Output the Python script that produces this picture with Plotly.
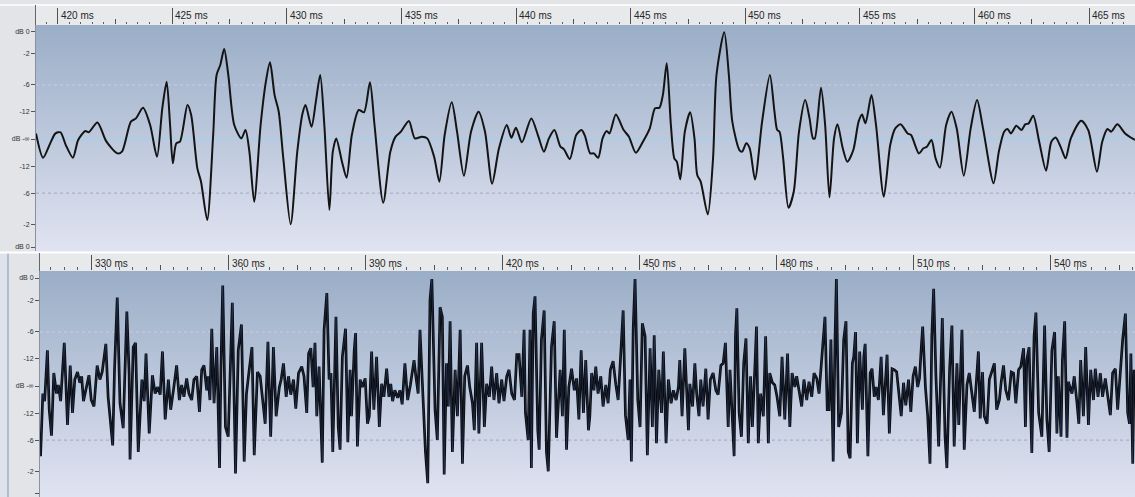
import plotly.graph_objects as go

# ---------------------------------------------------------------- data
# Close-up view, 419-467 ms: (time in ms, level in % of full scale)
top_first = [
    (419.05, 5.2), (419.36, -17.3), (419.67, -4.0), (419.90, 5.2), (420.12, 6.2),
    (420.35, -5.6), (420.66, -17.3), (420.89, -0.9), (421.20, 7.4), (421.35, 6.2),
    (421.73, 15.4), (422.11, -1.9), (422.60, -13.3), (422.80, -11.7), (423.19, 16.1),
    (423.41, 19.1), (423.72, 29.0), (424.03, 13.0), (424.33, -16.4), (424.56, 28.4),
    (424.75, 53.1), (424.90, 13.0), (425.02, -22.5), (425.17, -4.0), (425.33, -2.5),
    (425.66, 31.5), (425.82, 22.2), (426.09, -27.2), (426.25, -39.5), (426.52, -75.0),
    (426.78, 3.7), (426.93, 59.3), (427.09, 68.5), (427.26, 83.3), (427.44, 59.3),
    (427.70, 13.0), (428.01, 0.6), (428.19, 8.3), (428.36, -11.7), (428.57, -58.0),
    (428.85, 13.0), (429.08, 53.1), (429.26, 71.0), (429.46, 40.7), (429.64, 25.3),
    (429.84, -17.9), (430.16, -79.0), (430.45, -11.7), (430.68, 23.8), (430.81, 31.5),
    (431.07, 11.4), (431.26, 34.6), (431.45, 59.3), (431.63, 13.0), (431.85, -65.7),
    (432.00, -11.7), (432.15, 0.6), (432.40, -21.0), (432.60, -35.8), (432.83, 3.7),
    (433.13, 26.9), (433.36, 24.7), (433.62, 52.5), (433.82, 13.0), (434.20, -59.0),
    (434.51, -11.7), (434.74, 2.2), (434.97, 6.8), (435.32, 16.7), (435.58, 0.6),
    (435.89, 2.2), (436.12, 0.6), (436.42, -16.4), (436.65, -39.5), (436.88, 3.7),
    (437.19, 34.0), (437.42, 6.8), (437.72, -34.0), (438.03, 6.8), (438.36, 25.3),
    (438.64, 6.8), (438.95, -41.4), (439.25, -8.6), (439.59, 13.0), (439.79, 1.2),
    (439.99, 10.5), (440.25, -3.1), (440.66, 19.1), (440.97, 2.2), (441.21, -11.7),
    (441.43, 0.6), (441.67, 8.3), (441.93, -7.1), (442.08, -9.3), (442.34, -18.5),
    (442.62, 3.7), (442.85, 8.3),
]
top_second = [
    (443.00, 3.0), (443.23, -13.3), (443.39, -13.3), (443.58, -17.3), (443.77, 0.6),
    (443.95, 7.4), (444.07, 5.2), (444.35, 22.8), (444.69, 8.3), (444.92, 2.2),
    (445.22, -12.7), (445.53, -2.5), (445.83, 9.9), (446.06, 28.4), (446.25, 29.0),
    (446.40, 40.7), (446.57, 70.1), (446.75, 13.0), (446.90, -17.9), (447.01, -21.0),
    (447.16, -37.4), (447.36, 6.8), (447.59, 24.7), (447.78, 0.6), (447.90, -33.3),
    (448.05, -39.5), (448.36, -69.8), (448.59, -17.9), (448.74, 59.3), (449.08, 99.0),
    (449.28, 59.3), (449.43, 16.1), (449.74, -10.2), (449.86, -11.7), (450.04, -4.0),
    (450.19, -8.6), (450.42, -37.4), (450.73, 16.1), (451.07, 59.3), (451.27, 25.3),
    (451.39, 8.3), (451.49, 6.8), (451.65, -17.9), (451.88, -63.6), (452.11, -48.8),
    (452.34, 6.8), (452.61, 36.1), (452.80, 19.1), (452.95, 0.6), (453.03, 0.6),
    (453.30, 47.5), (453.48, 13.0), (453.67, -54.0), (453.87, 0.6), (454.02, 13.6),
    (454.25, -8.6), (454.45, -21.0), (454.71, -10.2), (454.94, 16.1), (455.09, 22.8),
    (455.24, 14.5), (455.50, 40.7), (455.70, 13.0), (456.04, -53.4), (456.32, -5.6),
    (456.54, 9.9), (456.77, 13.6), (457.08, 5.2), (457.23, 3.7), (457.57, -13.3),
    (457.77, -8.6), (457.92, -7.1), (458.12, -0.9), (458.30, -17.9), (458.49, -26.5),
    (458.76, 13.0), (458.99, 25.3), (459.22, 9.9), (459.53, -34.0), (459.83, 9.9),
    (460.11, 36.1), (460.37, 9.9), (460.83, -41.0), (461.06, -11.7), (461.29, 6.8),
    (461.44, 9.3), (461.59, 5.2), (461.82, 12.3), (462.05, 8.3), (462.21, 13.6),
    (462.36, 14.5), (462.56, 21.6), (462.82, -2.5), (463.12, -29.3), (463.35, -2.5),
    (463.54, 1.5), (463.78, -8.6), (463.97, -17.9), (464.20, 0.6), (464.65, 17.0),
    (464.96, 8.3), (465.34, -30.2), (465.57, -2.5), (465.80, 9.3), (465.96, 6.8),
    (466.23, 13.6), (466.57, 5.2), (467.00, -0.9),
]

# Overview, 318.7-558.5 ms: (time in ms, level in % of full scale)
wave_a = [
    (318.8, -65), (319.3, -7), (319.7, -14), (320.3, 33), (320.7, -22), (321.2, -46),
    (321.7, 12), (322.3, -7), (322.7, 1), (323.2, -14), (324.0, 40), (324.7, -36),
    (325.3, 19), (325.8, -25), (326.3, 6), (326.9, 13), (327.4, 3), (327.8, 9),
    (328.2, -14), (328.7, -4), (329.4, 10), (329.9, -13), (330.5, -19), (331.2, 19),
    (331.8, 6), (332.3, 13), (333.1, 39), (333.6, -10), (334.0, -28), (334.6, -55),
    (335.0, 15), (335.6, 82), (336.2, -16), (336.9, -39), (337.7, 69), (338.2, 12),
    (338.4, -68), (339.1, 36), (339.6, 40), (340.2, -61), (341.0, 6), (341.5, -14),
    (341.9, 30), (342.6, -44), (343.3, 10), (343.9, -7), (344.4, -1), (345.0, -8),
    (345.5, 32), (346.1, -31), (346.8, 6), (347.3, -22), (347.9, -4), (348.6, 19),
    (349.2, -13), (349.7, 1), (350.2, -10), (350.8, 7), (351.3, -7), (351.9, -13),
    (352.4, 6), (353.0, 9), (353.6, -24), (354.1, 15), (354.6, 19), (355.2, -4),
    (355.5, 9), (355.9, -13), (356.3, 53), (356.8, -16), (357.4, 36), (358.0, -76),
    (358.3, 15), (358.7, 93), (359.3, -38), (359.9, -47), (360.8, 77), (361.5, -81),
    (362.1, 33), (362.8, 57), (363.4, -70), (363.9, -7), (364.5, 15), (365.1, 36),
    (365.6, -64), (366.3, 13), (366.9, 9), (367.4, -10), (368.0, -35), (368.6, 41),
    (369.2, -47), (369.8, 36), (370.4, -28), (371.1, -1), (371.5, 6), (372.0, 21),
    (372.6, -10), (373.1, 9), (373.6, -8), (374.2, 6), (374.7, -21), (375.3, 12),
    (376.0, 18), (376.5, 9), (377.1, -25), (377.5, 30), (378.0, 35), (378.5, -1),
]
wave_b = [
    (378.9, 40), (379.3, -28), (379.8, 18), (380.5, -71), (380.9, 52), (381.5, 86),
    (382.0, 6), (382.4, 12), (382.8, -61), (383.5, 64), (384.0, -38), (384.4, -59),
    (384.9, 27), (385.6, 53), (386.1, -52), (386.6, 15), (386.9, -28), (387.5, 33),
    (387.8, 49), (388.2, -56), (388.8, 6), (389.3, -1), (389.9, 7), (390.4, -35),
    (390.8, -28), (391.3, 32), (391.8, -22), (392.4, 27), (393.0, -38), (393.5, 2),
    (394.0, -10), (394.6, 16), (395.1, -10), (395.5, 2), (395.9, -14), (396.4, -4),
    (397.0, -11), (397.5, -4), (398.0, -17), (398.6, 21), (399.2, -13), (399.8, 1),
    (400.6, 24), (401.0, 9), (401.5, -7), (401.9, 52), (402.5, -2), (403.1, -61),
    (403.6, -90), (404.1, 80), (404.5, 99), (405.2, -22), (405.7, -50), (406.3, 73),
    (406.8, 64), (407.2, -82), (407.7, 21), (408.1, -19), (408.5, 60), (409.0, -61),
    (409.6, 15), (410.1, -28), (410.7, 52), (411.2, -72), (411.7, 9), (412.3, 19),
    (412.8, -1), (413.4, -16), (413.8, -41), (414.3, 40), (414.8, -44), (415.4, 40),
    (416.0, -38), (416.5, 2), (417.1, -10), (417.6, 18), (418.1, -13), (418.7, 12),
    (419.2, -16), (419.8, 6), (420.3, -14), (420.9, 9), (421.4, 15), (422.0, -7),
    (422.6, -13), (423.1, 29), (423.6, 29), (424.2, -10), (424.7, 52), (425.0, -25),
    (425.6, -50), (426.0, 52), (426.3, -76), (426.7, 67), (427.1, 83), (427.7, -41),
    (428.0, -59), (428.5, 43), (429.1, 70), (429.6, -61), (430.0, -79), (430.7, 36),
    (431.3, 60), (431.8, -48), (432.6, 15), (433.1, -28), (433.5, 52), (434.0, -59),
    (434.5, -1), (435.1, 16), (435.7, -4), (436.2, 7), (436.7, -31), (437.2, 33),
    (437.7, -25), (438.2, 24), (438.8, -41),
]
wave_c = [
    (439.1, -28), (439.5, 12), (440.0, -4), (440.4, 18), (440.9, -7), (441.5, 9),
    (442.0, -19), (442.6, 1), (443.1, -16), (443.6, 15), (444.2, 23), (444.8, 1),
    (445.3, -13), (445.8, 24), (446.4, 70), (446.9, -27), (447.5, -50), (447.9, 6),
    (448.2, -70), (448.6, 53), (449.0, 99), (449.6, -13), (450.1, -38), (450.6, 58),
    (451.2, 46), (451.7, -64), (452.3, 35), (452.8, -38), (453.2, 47), (453.7, -53),
    (454.2, 15), (454.8, -25), (455.2, 32), (455.8, -53), (456.3, 6), (456.9, -16),
    (457.4, -4), (458.0, -13), (458.5, -1), (458.8, 24), (459.3, -28), (459.9, 35),
    (460.7, -41), (461.0, 2), (461.6, -19), (462.1, 21), (462.5, -7), (463.0, -28),
    (463.4, 6), (463.9, -19), (464.5, 16), (465.0, -31), (465.5, 6), (466.1, 12),
    (466.7, -4), (467.2, -8), (467.8, 19), (468.3, 21), (468.8, 40), (469.4, -38),
    (469.8, 15), (470.7, -65), (471.0, 46), (471.3, 72), (471.8, -25), (472.3, -47),
    (472.8, 21), (473.3, 44), (473.8, -53), (474.3, 9), (474.7, -38), (475.3, 23),
    (475.6, 55), (476.0, -53), (476.5, -7), (477.1, -28), (477.6, 46), (478.2, -53),
    (478.5, 12), (479.1, 3), (479.6, 1), (480.1, -10), (480.7, -28), (481.2, 27),
    (481.8, -31), (482.4, 30), (482.9, -38), (483.4, 12), (484.0, -1), (484.4, 9),
    (484.9, -4), (485.5, -19), (486.0, 6), (486.6, -13), (487.1, 4), (487.7, -10),
    (488.2, 12), (488.8, 7), (489.3, -7), (489.9, 27), (490.6, 64), (491.1, -22),
    (491.5, -22), (491.9, 43), (492.4, -70), (492.8, 43), (493.1, 99), (493.6, -38),
    (494.2, -25), (494.7, 43), (495.2, 60), (495.7, -61), (496.1, -67), (496.6, 21),
    (496.9, 27), (497.3, 50), (497.7, -53), (498.2, 32), (498.8, -22), (499.1, 27),
]
wave_d = [
    (499.4, 39), (500.0, -65), (500.5, 12), (500.9, 16), (501.4, -10), (501.8, -1),
    (502.3, -13), (502.9, 27), (503.4, -27), (504.2, 29), (504.7, -44), (505.3, 16),
    (505.8, 15), (506.3, 13), (506.9, -10), (507.3, -28), (507.8, 3), (508.3, -18),
    (508.9, 6), (509.4, -24), (509.9, 9), (510.4, 18), (510.9, -1), (511.3, 7),
    (511.7, 36), (512.0, 55), (512.6, -1), (513.1, -28), (513.6, -72), (514.0, 46),
    (514.4, 90), (514.9, 9), (515.5, -56), (516.0, 30), (516.3, 63), (516.9, -47),
    (517.3, -76), (517.9, 16), (518.4, 56), (518.9, -56), (519.5, 21), (519.9, -36),
    (520.6, 52), (521.1, -59), (521.7, 1), (522.2, 12), (522.8, -10), (523.3, -24),
    (523.9, 13), (524.2, 32), (524.6, -30), (525.1, 13), (525.5, -28), (526.1, -35),
    (526.6, 6), (527.1, 12), (527.7, 21), (528.2, -22), (528.8, -13), (529.2, 4),
    (529.7, 19), (530.2, -4), (530.8, -13), (531.4, 13), (531.9, 12), (532.4, -16),
    (533.0, 15), (533.5, 18), (534.1, 35), (534.5, -38), (534.8, 24), (535.3, 36),
    (535.9, -62), (536.4, 46), (536.8, 68), (537.4, -25), (538.1, -47), (538.7, 56),
    (539.2, -31), (539.7, -61), (540.3, 33), (540.9, 50), (541.4, -44), (541.7, 9),
    (542.3, -47), (542.6, 24), (543.1, 60), (543.6, -48), (543.9, 4), (544.7, -7),
    (545.2, 9), (545.8, -16), (546.2, -35), (546.6, 24), (547.2, -28), (547.7, 36),
    (548.3, -36), (548.8, 15), (549.4, -13), (549.8, 16), (550.4, -10), (550.9, 12),
    (551.4, -10), (552.0, 7), (552.6, -14), (553.1, -27), (553.6, 12), (554.2, 16),
    (554.7, -22), (555.3, 15), (555.8, 43), (556.4, 67), (556.9, -25), (557.3, -35),
    (557.6, 30), (558.0, -72), (558.3, 15),
]

# level scale: linear amplitude, labelled in dB
level_ticks = [100, 79.43, 50.12, 25.12, 0, -25.12, -50.12, -79.43, -100]
level_labels = ["dB 0", "-2", "-6", "-12", "dB -\u221e", "-12", "-6", "-2", "dB 0"]
minus_six = [50.12, -50.12]

# time rulers
top_view = [419.05, 467.0]
bottom_view = [318.68, 558.5]
top_major = [420, 425, 430, 435, 440, 445, 450, 455, 460, 465]
top_half = [422.5, 427.5, 432.5, 437.5, 442.5, 447.5, 452.5, 457.5, 462.5]
bottom_major = [330, 360, 390, 420, 450, 480, 510, 540]
bottom_half = [345, 375, 405, 435, 465, 495, 525, 555]
top_level_view = [-103.7, 105.6]
bottom_level_view = [-102.8, 106.5]

# ---------------------------------------------------------------- layout helpers
W, H = 1135, 497


def fx(p):
    return p / W


def fy(p):
    return 1 - p / H


GRADIENT = [[0, "#e0e3f1"], [0.5, "#bdc8dc"], [1, "#9aaec7"]]
LABEL_FONT = dict(family="Liberation Sans, Arial, sans-serif", size=7, color="#303030")
RULER_FONT = dict(family="Liberation Sans, Arial, sans-serif", size=10, color="#262626")
SIX_DB_COLORS = ["rgba(205,210,224,0.8)", "rgba(150,153,168,0.75)"]


def backdrop(xr, yr, xa, ya):
    return go.Scatter(
        x=[xr[0], xr[1], xr[1], xr[0], xr[0]],
        y=[yr[0], yr[0], yr[1], yr[1], yr[0]],
        fill="toself", mode="none",
        fillgradient=dict(type="vertical", colorscale=GRADIENT),
        xaxis=xa, yaxis=ya, hoverinfo="skip", showlegend=False,
    )


def guides(xr, xa, ya):
    out = [go.Scatter(x=xr, y=[0, 0], mode="lines",
                      line=dict(color="#9ed3ef", width=1),
                      xaxis=xa, yaxis=ya, hoverinfo="skip", showlegend=False)]
    for lv, col in zip(minus_six, SIX_DB_COLORS):
        out.append(go.Scatter(x=xr, y=[lv, lv], mode="lines",
                              line=dict(color=col, width=1, dash="dot"),
                              xaxis=xa, yaxis=ya, hoverinfo="skip", showlegend=False))
    return out


fig = go.Figure()

# close-up panel
fig.add_trace(backdrop(top_view, top_level_view, "x", "y"))
for tr in guides(top_view, "x", "y"):
    fig.add_trace(tr)
top_pts = top_first + top_second
fig.add_trace(go.Scatter(
    x=[p[0] for p in top_pts], y=[p[1] for p in top_pts], mode="lines",
    line=dict(color="#141414", width=2, shape="spline", smoothing=0.75),
    xaxis="x", yaxis="y", hoverinfo="skip", showlegend=False))

# overview panel
fig.add_trace(backdrop(bottom_view, bottom_level_view, "x2", "y2"))
for tr in guides(bottom_view, "x2", "y2"):
    fig.add_trace(tr)
wave_pts = wave_a + wave_b + wave_c + wave_d
wx = [p[0] for p in wave_pts]
wy = [p[1] for p in wave_pts]
fig.add_trace(go.Scatter(x=wx, y=wy, mode="lines",
                         line=dict(color="#0a0a0a", width=2.7),
                         xaxis="x2", yaxis="y2", hoverinfo="skip", showlegend=False))
fig.add_trace(go.Scatter(x=wx, y=wy, mode="lines",
                         line=dict(color="rgba(70,110,205,0.4)", width=0.7),
                         xaxis="x2", yaxis="y2", hoverinfo="skip", showlegend=False))

# carriers for the half-step ruler ticks
fig.add_trace(go.Scatter(x=[None], y=[None], xaxis="x3", yaxis="y", showlegend=False, hoverinfo="skip"))
fig.add_trace(go.Scatter(x=[None], y=[None], xaxis="x4", yaxis="y2", showlegend=False, hoverinfo="skip"))

ruler_common = dict(side="top", ticks="outside", showticklabels=False, showgrid=False,
                    zeroline=False, showline=False, tickcolor="#4e5258", tickwidth=1,
                    fixedrange=True)
level_common = dict(tickvals=level_ticks, ticktext=level_labels, ticks="outside", ticklen=4,
                    tickcolor="#555", tickfont=LABEL_FONT, showgrid=False, zeroline=False,
                    showline=True, linecolor="#8a919e", linewidth=1, fixedrange=True)

fig.update_layout(
    width=W, height=H, autosize=False,
    margin=dict(l=0, r=0, t=0, b=0, pad=0),
    paper_bgcolor="#e3e4e7", plot_bgcolor="rgba(0,0,0,0)",
    showlegend=False,
    xaxis=dict(domain=[fx(36), 1], range=top_view, anchor="y", tickvals=top_major, ticklen=16,
               minor=dict(dtick=0.5, tick0=420, ticks="outside", ticklen=2, tickcolor="#5a5e64"),
               **ruler_common),
    xaxis3=dict(overlaying="x", range=top_view, anchor="y", tickvals=top_half, ticklen=5,
                **ruler_common),
    yaxis=dict(domain=[fy(251), fy(25)], range=top_level_view, anchor="x", **level_common),
    xaxis2=dict(domain=[fx(40), 1], range=bottom_view, anchor="y2", tickvals=bottom_major, ticklen=15,
                minor=dict(dtick=3, tick0=330, ticks="outside", ticklen=3, tickcolor="#5a5e64"),
                **ruler_common),
    xaxis4=dict(overlaying="x2", range=bottom_view, anchor="y2", tickvals=bottom_half, ticklen=5,
                **ruler_common),
    yaxis2=dict(domain=[0, fy(271)], range=bottom_level_view, anchor="x2", **level_common),
)

shapes = [
    # ruler strips
    dict(type="rect", xref="paper", yref="paper", x0=fx(36), x1=1, y0=fy(25), y1=fy(6),
         fillcolor="#e8e9eb", line=dict(width=0), layer="below"),
    dict(type="rect", xref="paper", yref="paper", x0=fx(40), x1=1, y0=fy(271), y1=fy(254),
         fillcolor="#e8e9eb", line=dict(width=0), layer="below"),
    # window edge of the overview panel
    dict(type="rect", xref="paper", yref="paper", x0=0, x1=fx(7), y0=0, y1=fy(253),
         fillcolor="#dde2ec", line=dict(width=0), layer="below"),
    dict(type="line", xref="paper", yref="paper", x0=fx(8), x1=fx(8), y0=0, y1=fy(253),
         line=dict(color="#b3bccd", width=2), layer="below"),
    # white separators
    dict(type="line", xref="paper", yref="paper", x0=0, x1=1, y0=fy(5), y1=fy(5),
         line=dict(color="#ffffff", width=1.5)),
    dict(type="line", xref="paper", yref="paper", x0=0, x1=1, y0=fy(252.5), y1=fy(252.5),
         line=dict(color="#ffffff", width=2)),
    # ruler left borders
    dict(type="line", xref="paper", yref="paper", x0=fx(35.5), x1=fx(35.5), y0=fy(25), y1=fy(5),
         line=dict(color="#62666d", width=1)),
    dict(type="line", xref="paper", yref="paper", x0=fx(39.5), x1=fx(39.5), y0=fy(271), y1=fy(253),
         line=dict(color="#62666d", width=1)),
]
fig.update_layout(shapes=shapes)

annotations = []
for t in top_major:
    annotations.append(dict(x=t, xref="x", y=fy(16), yref="paper", text=f"{t} ms",
                            showarrow=False, xanchor="left", yanchor="middle", xshift=1,
                            font=RULER_FONT))
for t in bottom_major:
    annotations.append(dict(x=t, xref="x2", y=fy(263), yref="paper", text=f"{t} ms",
                            showarrow=False, xanchor="left", yanchor="middle", xshift=1,
                            font=RULER_FONT))
fig.update_layout(annotations=annotations)

fig.write_html("out.html")
